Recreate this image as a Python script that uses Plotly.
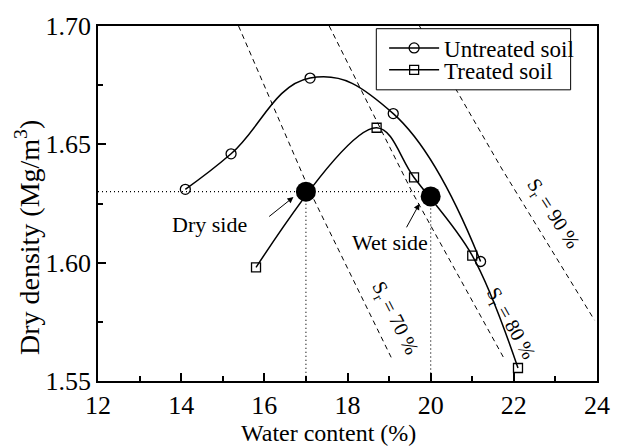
import plotly.graph_objects as go

# Data
untreated_w = [14.1, 15.2, 17.1, 19.1, 21.2]
untreated_d = [1.631, 1.646, 1.678, 1.663, 1.6005]
treated_w = [15.8, 18.7, 19.6, 21.0, 22.1]
treated_d = [1.598, 1.657, 1.636, 1.603, 1.5555]

points_w = [17.0, 20.0]
points_d = [1.630, 1.628]

sr70_w = [15.38, 17.1, 19.05]
sr70_d = [1.70, 1.63, 1.56]
sr80_w = [17.56, 19.55, 21.75]
sr80_d = [1.70, 1.63, 1.56]
sr90_w = [19.73, 21.7, 23.94]
sr90_d = [1.70, 1.64, 1.5757]

hline_w = [12.0, 20.0]
hline_d = [1.63, 1.63]
vline1_w = [17.0, 17.0]
vline1_d = [1.63, 1.55]
vline2_w = [20.0, 20.0]
vline2_d = [1.628, 1.55]

x_ticks = [12, 14, 16, 18, 20, 22, 24]
y_ticks = [1.55, 1.60, 1.65, 1.70]

FONT = "Liberation Serif"
W, H = 622, 448
ML, MR, MT, MB = 98, 13, 25, 67
PW, PH = W - ML - MR, H - MT - MB


def px_x(p):
    return (p - ML) / PW


def px_y(p):
    return 1 - (p - MT) / PH


fig = go.Figure()

# dotted guide lines
for xs, ys in [(hline_w, hline_d), (vline1_w, vline1_d), (vline2_w, vline2_d)]:
    fig.add_trace(go.Scatter(x=xs, y=ys, mode="lines", showlegend=False,
                             line=dict(color="black", width=1.2, dash="1px,3px"),
                             hoverinfo="skip"))

# saturation lines
for xs, ys in [(sr70_w, sr70_d), (sr80_w, sr80_d), (sr90_w, sr90_d)]:
    fig.add_trace(go.Scatter(x=xs, y=ys, mode="lines", showlegend=False,
                             line=dict(color="black", width=1, dash="5px,4px"),
                             hoverinfo="skip"))

fig.add_trace(go.Scatter(x=untreated_w, y=untreated_d, mode="lines+markers",
                         name="Untreated soil", legend="legend",
                         line=dict(color="black", width=1.5, shape="spline", smoothing=1.25),
                         marker=dict(symbol="circle-open", size=10, color="black",
                                     line=dict(width=1.3))))
fig.add_trace(go.Scatter(x=treated_w, y=treated_d, mode="lines+markers",
                         name="Treated soil", legend="legend2",
                         line=dict(color="black", width=1.5, shape="spline"),
                         marker=dict(symbol="square-open", size=9, color="black",
                                     line=dict(width=1.3))))

fig.add_trace(go.Scatter(x=points_w, y=points_d, mode="markers", showlegend=False,
                         marker=dict(symbol="circle", size=20, color="black")))

annotations = [
    dict(x=16.70, y=1.6277, ax=16.08, ay=1.619, xref="x", yref="y", axref="x", ayref="y",
         text="", showarrow=True, arrowhead=2, arrowsize=1.2, arrowwidth=1, arrowcolor="black"),
    dict(x=19.73, y=1.6249, ax=19.40, ay=1.6143, xref="x", yref="y", axref="x", ayref="y",
         text="", showarrow=True, arrowhead=2, arrowsize=1.2, arrowwidth=1, arrowcolor="black"),
    dict(x=14.69, y=1.616, xref="x", yref="y", text="Dry side", showarrow=False,
         font=dict(family=FONT, size=22, color="black")),
    dict(x=19.02, y=1.6084, xref="x", yref="y", text="Wet side", showarrow=False,
         font=dict(family=FONT, size=22, color="black")),
    dict(x=19.13, y=1.5764, xref="x", yref="y", text="S<sub>r</sub> = 70 %", showarrow=False,
         textangle=63, font=dict(family=FONT, size=20, color="black")),
    dict(x=21.91, y=1.5743, xref="x", yref="y", text="S<sub>r</sub> = 80 %", showarrow=False,
         textangle=61, font=dict(family=FONT, size=20, color="black")),
    dict(x=22.94, y=1.6204, xref="x", yref="y", text="S<sub>r</sub> = 90 %", showarrow=False,
         textangle=57, font=dict(family=FONT, size=20, color="black")),
    # axis titles
    dict(x=px_x(334), y=px_y(433), xref="paper", yref="paper", text="Water content (%)",
         showarrow=False, xanchor="center", yanchor="middle",
         font=dict(family=FONT, size=24, color="black")),
    dict(x=px_x(26), y=px_y(237), xref="paper", yref="paper", text="Dry density (Mg/m<sup>3</sup>)",
         showarrow=False, xanchor="center", yanchor="middle", textangle=-90,
         font=dict(family=FONT, size=28, color="black")),
]

shapes = [
    dict(type="rect", xref="paper", yref="paper",
         x0=px_x(383), x1=px_x(582), y0=px_y(89), y1=px_y(27.7),
         line=dict(color="black", width=1), fillcolor="white", layer="above"),
]

axis_common = dict(showgrid=False, zeroline=False, showline=True, linecolor="black",
                   linewidth=1.5, mirror=True, ticks="inside", ticklen=8, tickwidth=1.5,
                   tickcolor="black", tickfont=dict(family=FONT, size=26, color="black"))

legend_common = dict(xanchor="left", yanchor="middle", bgcolor="rgba(0,0,0,0)",
                     borderwidth=0, font=dict(family=FONT, size=23, color="black"),
                     itemwidth=50)

fig.update_layout(
    width=W, height=H,
    margin=dict(l=ML, r=MR, t=MT, b=MB),
    paper_bgcolor="white", plot_bgcolor="white",
    font=dict(family=FONT, size=22, color="black"),
    xaxis=dict(range=[12, 24], tickvals=x_ticks, ticktext=[str(v) for v in x_ticks],
               minor=dict(dtick=1, ticks="inside", ticklen=5, tickwidth=1.5, tickcolor="black"),
               **axis_common),
    yaxis=dict(range=[1.55, 1.70], tickvals=y_ticks, ticktext=["%.2f" % v for v in y_ticks],
               minor=dict(dtick=0.025, ticks="inside", ticklen=5, tickwidth=1.5, tickcolor="black"),
               **axis_common),
    legend=dict(x=px_x(391), y=px_y(47), **legend_common),
    legend2=dict(x=px_x(391), y=px_y(69), **legend_common),
    annotations=annotations,
    shapes=shapes,
)

fig.write_html("out.html", config={"displayModeBar": False},
               post_script="document.body.style.margin='0px';")
